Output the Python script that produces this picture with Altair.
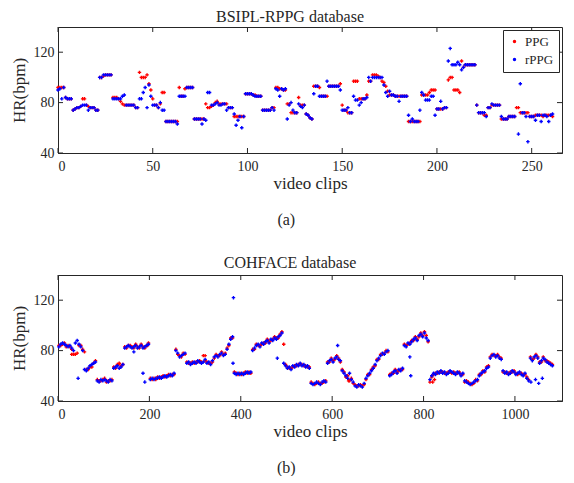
import altair as alt
import pandas as pd

# ---------------- (a) BSIPL-RPPG database : one value per video clip ----------------
top_ppg = [
    92, 92, 92, 92, 84, 83, 83, 83, 74, 75,
    76, 76, 77, 83, 83, 78, 77, 76, 76, 76,
    74, 74, 100, 100, 101, 102, 102, 102, 102, 84,
    84, 84, 83, 81, 79, 78, 78, 78, 78, 78,
    78, 76, 76, 104, 100, 100, 100, 102, 95, 90,
    83, 78, 78, 76, 79, 88, 88, 65, 65, 65,
    65, 65, 65, 65, 92, 85, 85, 91, 92, 92,
    92, 92, 67, 67, 67, 67, 67, 67, 79, 76,
    76, 77, 78, 80, 81, 79, 79, 79, 79, 79,
    76, 76, 76, 69, 69, 69, 69, 69, 69, 87,
    87, 87, 87, 86, 86, 85, 85, 85, 74, 74,
    74, 74, 74, 76, 76, 92, 92, 91, 91, 90,
    90, 79, 79, 72, 72, 72, 72, 84, 78, 78,
    78, 71, 70, 68, 67, 93, 93, 93, 92, 85,
    85, 85, 85, 93, 93, 93, 93, 93, 93, 95,
    78, 74, 74, 72, 72, 72, 97, 97, 97, 83,
    83, 83, 83, 86, 97, 97, 102, 102, 102, 101,
    100, 97, 96, 93, 89, 86, 86, 86, 85, 85,
    85, 85, 85, 85, 85, 65, 65, 65, 65, 65,
    65, 65, 86, 86, 86, 86, 88, 90, 90, 90,
    75, 75, 75, 75, 76, 76, 98, 100, 100, 90,
    90, 90, 88, 113, 108, 110, 110, 110, 110, 110,
    110, 78, 72, 72, 72, 70, 70, 76, 76, 78,
    78, 78, 78, 78, 67, 67, 67, 67, 69, 69,
    69, 69, 76, 76, 72, 72, 72, 72, 72, 69,
    69, 69, 70, 70, 70, 70, 69, 70, 70, 70,
    70, 69,
]
top_rppg = [
    90, 91, 83, 92, 84, 83, 83, 83, 74, 75,
    76, 76, 77, 78, 78, 78, 74, 76, 76, 76,
    74, 74, 100, 100, 102, 102, 102, 102, 102, 83,
    83, 83, 83, 83, 85, 86, 78, 78, 78, 78,
    78, 76, 76, 83, 83, 88, 92, 76, 94, 85,
    78, 78, 78, 76, 80, 74, 74, 65, 65, 65,
    65, 65, 65, 63, 85, 85, 85, 85, 92, 92,
    92, 92, 67, 67, 67, 67, 63, 67, 66, 88,
    88, 78, 78, 79, 80, 78, 78, 79, 79, 74,
    76, 76, 76, 71, 62, 66, 69, 60, 69, 87,
    87, 87, 87, 86, 85, 85, 85, 85, 74, 74,
    74, 74, 74, 76, 74, 91, 90, 85, 91, 90,
    91, 67, 78, 80, 74, 72, 72, 79, 77, 76,
    78, 71, 70, 68, 67, 87, 93, 93, 85, 85,
    85, 85, 97, 93, 93, 93, 93, 93, 93, 90,
    74, 74, 74, 76, 72, 72, 85, 82, 82, 78,
    80, 83, 83, 84, 100, 97, 100, 100, 100, 100,
    100, 100, 94, 88, 85, 89, 86, 86, 85, 85,
    81, 85, 85, 85, 85, 70, 65, 67, 65, 65,
    65, 74, 88, 86, 82, 82, 82, 85, 85, 70,
    75, 75, 81, 75, 76, 76, 113, 123, 110, 110,
    110, 112, 110, 106, 108, 110, 110, 110, 110, 110,
    110, 78, 72, 72, 72, 72, 69, 76, 76, 79,
    78, 78, 78, 78, 69, 67, 67, 67, 69, 69,
    69, 69, 110, 55, 95, 72, 72, 69, 49, 69,
    69, 69, 66, 70, 70, 65, 70, 70, 69, 65,
    70, 71,
]
assert len(top_ppg) == len(top_rppg)

# ---------------- (b) COHFACE database : read every 4th video clip ----------------
bot_step = 4
bot_rppg = [
    83, 85, 86, 85, 84, 83, 84, 82, 80, 86,
    88, 85, 83, 80, 65, 64, 66, 68, 69, 70,
    71, 56, 55, 57, 56, 57, 56, 55, 57, 56,
    66, 67, 68, 66, 67, 69, 82, 83, 84, 83,
    82, 83, 84, 82, 83, 84, 82, 83, 84, 85,
    57, 58, 57, 58, 58, 59, 58, 59, 60, 59,
    60, 61, 60, 62, 80, 78, 75, 76, 77, 78,
    70, 71, 69, 70, 71, 70, 72, 71, 70, 71,
    73, 70, 71, 69, 72, 75, 76, 75, 77, 78,
    76, 77, 81, 85, 89, 91, 62, 61, 62, 61,
    62, 61, 62, 63, 62, 63, 80, 82, 84, 85,
    83, 86, 85, 87, 88, 86, 89, 88, 90, 89,
    91, 92, 94, 70, 68, 66, 67, 65, 68, 67,
    69, 68, 70, 68, 69, 67, 68, 66, 54, 53,
    54, 55, 54, 53, 55, 56, 55, 70, 72, 73,
    71, 74, 75, 73, 72, 64, 62, 60, 58, 62,
    57, 55, 52, 51, 53, 52, 51, 54, 58, 60,
    62, 64, 66, 69, 72, 74, 76, 78, 77, 79,
    80, 60, 61, 63, 64, 62, 65, 64, 66, 84,
    83, 86, 85, 87, 89, 90, 88, 92, 93, 91,
    94, 90, 88, 57, 60, 62, 61, 63, 62, 64,
    62, 63, 61, 62, 64, 63, 62, 61, 63, 62,
    60, 62, 56, 55, 54, 53, 54, 55, 56, 57,
    60, 62, 63, 64, 66, 67, 74, 76, 77, 75,
    76, 74, 73, 64, 62, 63, 61, 62, 64, 63,
    61, 62, 63, 61, 60, 62, 58, 56, 74, 72,
    75, 76, 74, 70, 72, 74, 73, 71, 70, 69,
    68,
]
bot_ppg = [
    84, 84, 85, 86, 83, 84, 83, 81, 77, 77,
    78, 84, 84, 81, 79, 65, 65, 67, 67, 70,
    72, 57, 56, 56, 57, 58, 55, 56, 56, 57,
    67, 66, 69, 70, 68, 69, 83, 82, 84, 84,
    83, 82, 85, 83, 82, 85, 83, 82, 84, 86,
    58, 57, 58, 57, 59, 58, 59, 60, 59, 60,
    61, 60, 61, 61, 81, 77, 76, 75, 78, 77,
    71, 70, 70, 71, 70, 71, 71, 72, 71, 76,
    72, 71, 70, 70, 71, 74, 77, 76, 76, 79,
    77, 78, 82, 84, 90, 90, 63, 62, 61, 62,
    61, 62, 63, 62, 63, 62, 81, 81, 85, 84,
    84, 85, 86, 86, 89, 87, 88, 89, 91, 90,
    90, 93, 95, 85, 69, 67, 66, 66, 67, 68,
    68, 69, 69, 69, 68, 68, 67, 67, 55, 54,
    53, 54, 55, 54, 54, 55, 56, 71, 71, 74,
    72, 73, 76, 74, 71, 65, 63, 59, 60, 56,
    58, 54, 53, 52, 52, 53, 52, 53, 57, 61,
    61, 65, 67, 68, 73, 73, 77, 77, 78, 80,
    79, 61, 62, 62, 65, 63, 64, 65, 65, 85,
    84, 85, 86, 88, 88, 91, 89, 91, 94, 92,
    95, 92, 87, 55, 59, 61, 62, 62, 63, 63,
    63, 62, 62, 63, 63, 62, 63, 62, 62, 63,
    61, 61, 55, 56, 55, 54, 53, 54, 57, 56,
    61, 61, 64, 63, 67, 68, 75, 77, 76, 76,
    77, 75, 74, 63, 63, 62, 62, 63, 63, 64,
    62, 61, 62, 62, 61, 61, 59, 57, 75, 73,
    74, 77, 75, 71, 71, 75, 72, 72, 71, 70,
    69,
]
assert len(bot_ppg) == len(bot_rppg)
# isolated points that sit away from the main bands
bot_rppg_extra_x = [44, 166, 186, 190, 383, 384, 480, 612, 770, 772, 1035, 1045, 1052, 1060]
bot_rppg_extra_y = [58, 79, 62, 55, 70, 122, 74, 84, 75, 60, 55, 57, 54, 58]
bot_ppg_extra_x = [30, 34, 196, 322, 632, 636, 820, 824, 960]
bot_ppg_extra_y = [77, 77, 84, 76, 60, 56, 55, 57, 76]

top_xticks = [0, 50, 100, 150, 200, 250]
bot_xticks = [0, 200, 400, 600, 800, 1000]
yticks = [40, 80, 120]
series_names = ["PPG", "rPPG"]
series_colors = ["#ff0000", "#0000ff"]

FONT = "Liberation Serif"
AX = "#262626"
W, H = 504, 126


def frame(xs, ppg, rppg, ex_px=(), ex_py=(), ex_rx=(), ex_ry=()):
    a = pd.DataFrame({"clip": list(xs) + list(ex_px), "hr": list(ppg) + list(ex_py), "series": "PPG"})
    b = pd.DataFrame({"clip": list(xs) + list(ex_rx), "hr": list(rppg) + list(ex_ry), "series": "rPPG"})
    return pd.concat([a, b], ignore_index=True)


def panel(df, xmax, xticks, title, sub, title_offset):
    xs = alt.Scale(domain=[0, xmax], nice=False, zero=False)
    ys = alt.Scale(domain=[40, 140], nice=False)
    xaxis = alt.Axis(values=xticks, format="d", title="video clips",
                     titlePadding=2, labelPadding=6, ticks=False, grid=False)
    yaxis = alt.Axis(values=yticks, title="HR(bpm)", titlePadding=5, labelPadding=4,
                     ticks=False, grid=False)
    pts = alt.Chart(df).mark_point(shape="cross", filled=True, size=12, opacity=1, strokeWidth=0).encode(
        x=alt.X("clip:Q", scale=xs, axis=xaxis),
        y=alt.Y("hr:Q", scale=ys, axis=yaxis),
        color=alt.Color("series:N", scale=alt.Scale(domain=series_names, range=series_colors),
                        legend=alt.Legend(title=None, orient="top-right", offset=3,
                                          symbolType="circle", symbolSize=12, labelFont=FONT,
                                          labelFontSize=13, labelColor=AX, strokeColor=AX,
                                          fillColor="white", padding=5, rowPadding=4,
                                          labelOffset=4)),
    )
    xt = pd.DataFrame({"clip": xticks})
    yt = pd.DataFrame({"hr": yticks})
    tick_b = alt.Chart(xt).mark_rule(color=AX).encode(
        x=alt.X("clip:Q", scale=xs, axis=xaxis), y=alt.value(H), y2=alt.value(H - 5))
    tick_t = alt.Chart(xt).mark_rule(color=AX).encode(
        x=alt.X("clip:Q", scale=xs, axis=xaxis), y=alt.value(0), y2=alt.value(5))
    tick_l = alt.Chart(yt).mark_rule(color=AX).encode(
        y=alt.Y("hr:Q", scale=ys, axis=yaxis), x=alt.value(0), x2=alt.value(5))
    tick_r = alt.Chart(yt).mark_rule(color=AX).encode(
        y=alt.Y("hr:Q", scale=ys, axis=yaxis), x=alt.value(W), x2=alt.value(W - 5))
    inner = alt.layer(pts, tick_b, tick_t, tick_l, tick_r).properties(
        width=W, height=H,
        title=alt.TitleParams(title, font=FONT, fontSize=16, fontWeight="normal", color=AX,
                              offset=title_offset, dx=-20),
    )
    return alt.vconcat(inner).properties(
        title=alt.TitleParams(sub, orient="bottom", anchor="middle", font=FONT, fontSize=16,
                              fontWeight="normal", color=AX, offset=20)
    )


top_df = frame(range(0, len(top_ppg)), top_ppg, top_rppg)
bot_x = range(2, 2 + bot_step * len(bot_ppg), bot_step)
bot_df = frame(bot_x, bot_ppg, bot_rppg, bot_ppg_extra_x, bot_ppg_extra_y,
               bot_rppg_extra_x, bot_rppg_extra_y)

chart = alt.vconcat(
    panel(top_df, 266, top_xticks, "BSIPL-RPPG database", "(a)", 2),
    panel(bot_df, 1103, bot_xticks, "COHFACE database", "(b)", 4),
    spacing=26,
).properties(
    padding={"left": 1, "top": 0, "right": 0, "bottom": 0}
).configure_view(
    stroke=AX, strokeWidth=1
).configure_axis(
    domainColor=AX, labelFont=FONT, labelFontSize=14, labelColor=AX,
    titleFont=FONT, titleFontSize=17, titleFontWeight="normal", titleColor=AX,
).configure_legend(
    labelLimit=0
).configure_concat(
    spacing=0
)

chart.save("out.html", embed_options={"renderer": "svg", "actions": False})
